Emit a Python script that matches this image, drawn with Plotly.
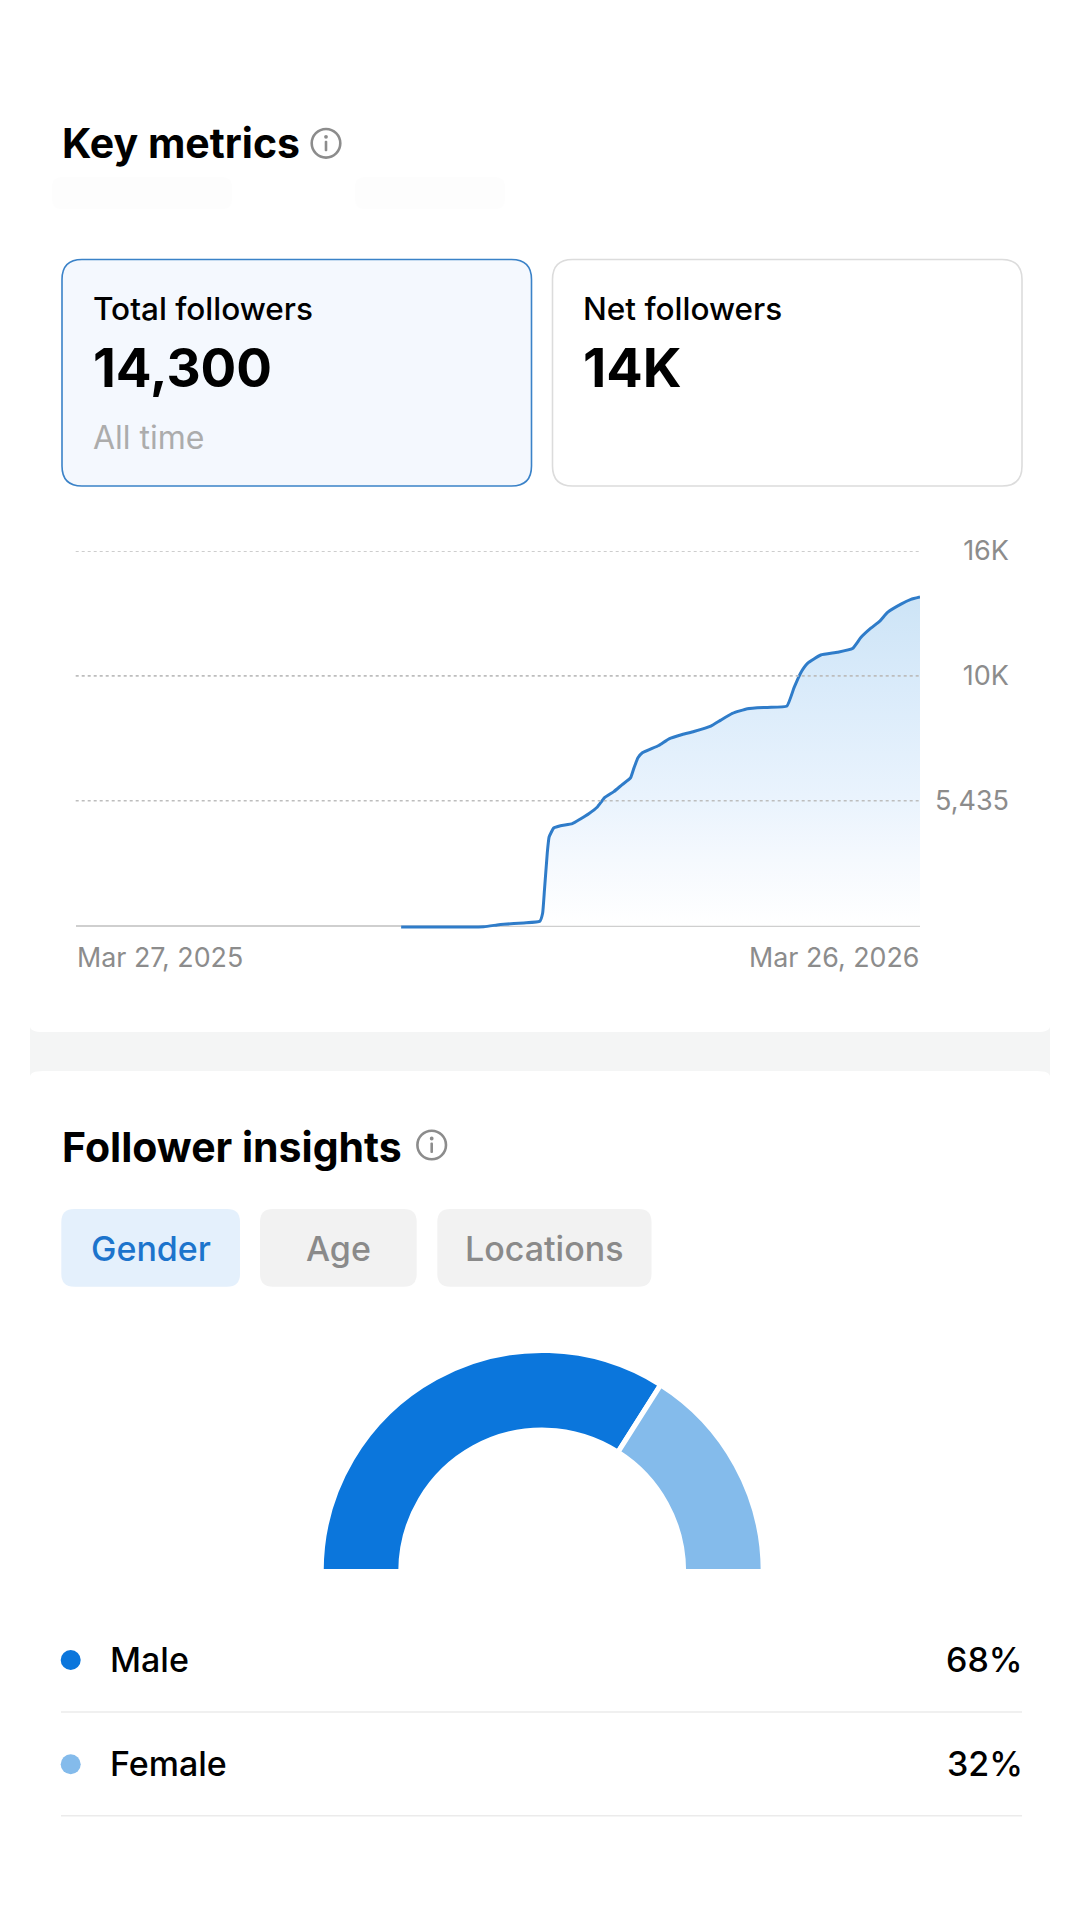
import pandas as pd
import plotly.graph_objects as go

# ---- data ----
START_DATE = "2025-03-27"
END_DATE = "2026-03-26"
days = [140.3, 175.9, 181.7, 184.6, 193.2, 200.1, 201.3, 202.1, 203.3, 204.1, 206.1, 209.0,
        214.1, 217.6, 221.2, 224.9, 228.0, 232.0, 235.6, 239.2, 240.7, 242.4, 244.3, 251.4,
        255.8, 261.5, 266.5, 273.8, 278.1, 283.1, 289.6, 298.2, 306.6, 309.7, 312.6, 315.5,
        321.2, 328.4, 334.9, 338.5, 342.8, 346.8, 350.0, 355.8, 360.1, 364.0]
followers = [-57, -44, 31, 61, 118, 192, 541, 1558, 3159, 3857, 4250, 4350,
             4437, 4642, 4873, 5166, 5572, 5833, 6139, 6431, 6867, 7304, 7522, 7840,
             8133, 8320, 8451, 8682, 8944, 9237, 9442, 9498, 9555, 10358, 11012, 11418,
             11780, 11898, 12060, 12539, 12945, 13264, 13630, 13992, 14197, 14300]
y_ticks = [5435, 10870, 16305]
y_tick_labels = ["5,435", "10K", "16K"]
genders = ["Male", "Female"]
gender_pct = [68, 32]
tabs = ["Gender", "Age", "Locations"]

W, H = 1080, 1920
FONT = "Inter"
px = lambda v: v / W
py = lambda v: 1 - v / H
dates = pd.Timestamp(START_DATE) + pd.to_timedelta(days, unit="D")

shapes, annos = [], []


def rrect(x0, y0, x1, y1, r, fill, line=None, lw=0):
    p = (f"M{px(x0+r)},{py(y0)} L{px(x1-r)},{py(y0)} Q{px(x1)},{py(y0)} {px(x1)},{py(y0+r)} "
         f"L{px(x1)},{py(y1-r)} Q{px(x1)},{py(y1)} {px(x1-r)},{py(y1)} "
         f"L{px(x0+r)},{py(y1)} Q{px(x0)},{py(y1)} {px(x0)},{py(y1-r)} "
         f"L{px(x0)},{py(y0+r)} Q{px(x0)},{py(y0)} {px(x0+r)},{py(y0)} Z")
    shapes.append(dict(type="path", path=p, xref="paper", yref="paper", fillcolor=fill, layer="below",
                       line=dict(color=line or fill, width=lw)))


def text(x, base, s, size, color="#000", weight=400, anchor="left"):
    annos.append(dict(x=px(x), y=py(base + 1.5 + 0.24 * size), xref="paper", yref="paper", text=s, showarrow=False,
                      xanchor=anchor, yanchor="bottom", borderpad=0, align=anchor,
                      font=dict(family=FONT, size=size, color=color, weight=weight)))


def circle(cx, cy, r, fill="rgba(0,0,0,0)", line="rgba(0,0,0,0)", lw=0):
    shapes.append(dict(type="circle", xref="paper", yref="paper", x0=px(cx - r), x1=px(cx + r),
                       y0=py(cy + r), y1=py(cy - r), fillcolor=fill, layer="below",
                       line=dict(color=line, width=lw)))


def info(cx, cy):
    circle(cx, cy, 14.3, line="#8c8c8c", lw=2.6)
    circle(cx, cy - 6.5, 1.9, fill="#8c8c8c")
    rrect(cx - 1.3, cy - 2.5, cx + 1.3, cy + 8, 1, "#8c8c8c")


# header
text(60.5, 157.7, "Key metrics", 41, weight=700)
info(326, 143.3)
rrect(52, 177, 232, 209, 10, "#fdfdfd")
rrect(355, 177, 505, 209, 10, "#fdfdfd")

# metric cards
rrect(62, 259.5, 531.5, 486, 20, "#f4f8fe", "#3a82c8", 1.6)
rrect(552.5, 259.5, 1022, 486, 20, "#ffffff", "#dcdcdc", 1.6)
text(91.5, 320, "Total followers", 31.5, weight=500)
text(91.5, 386.7, "14,300", 53, weight=700)
text(91.5, 449, "All time", 32, color="#acacac")
text(582, 320, "Net followers", 31.5, weight=500)
text(581.5, 386.7, "14K", 54, weight=700)

# separator band with concave corners
r = 13
band = (f"M{px(30)},{py(1026)} Q{px(30)},{py(1032)} {px(30+r)},{py(1032)} L{px(1050-r)},{py(1032)} "
        f"Q{px(1050)},{py(1032)} {px(1050)},{py(1026)} L{px(1050)},{py(1077)} "
        f"Q{px(1050)},{py(1071)} {px(1050-r)},{py(1071)} L{px(30+r)},{py(1071)} "
        f"Q{px(30)},{py(1071)} {px(30)},{py(1077)} Z")
shapes.append(dict(type="path", path=band, xref="paper", yref="paper", fillcolor="#f4f5f5",
                   layer="below", line=dict(width=0)))

# follower insights
text(60.5, 1161.7, "Follower insights", 41, weight=700)
info(431.7, 1145)
tab_boxes = [(61.3, 240), (260, 416.7), (437.3, 651.5)]
for name, (a, b), on in zip(tabs, tab_boxes, [True, False, False]):
    rrect(a, 1209, b, 1286.7, 13, "#e4f0fc" if on else "#f2f2f2")
    text((a + b) / 2, 1260, name, 34, color="#1c74cc" if on else "#8a8a8a", weight=500, anchor="center")

# legend rows
colors = ["#0b76dc", "#84bbeb"]
for name, val, col, cy, rule in zip(genders, gender_pct, colors, [1660, 1764.3], [1712, 1815.7]):
    circle(70.7, cy, 10, fill=col)
    text(109, cy + 11.4, name, 34, weight=500)
    text(1023.5, cy + 11.4, f"{val}%", 34, weight=500, anchor="right")
    shapes.append(dict(type="line", xref="paper", yref="paper", x0=px(61), x1=px(1022), y0=py(rule), y1=py(rule),
                       layer="below", line=dict(color="#ebebeb", width=1.6)))

# dotted gridlines above the area fill
for t in y_ticks:
    shapes.append(dict(type="line", xref="x domain", yref="y", x0=0, x1=1, y0=t, y1=t, layer="above",
                       line=dict(color="#bdbdbd", width=1.6, dash="3px,3px")))

# date labels
for d, anchor in [(START_DATE, "left"), (END_DATE, "right")]:
    a = dict(x=d, xref="x", y=py(965.7 + 8.5), yref="paper", text=pd.Timestamp(d).strftime("%b %-d, %Y"),
             showarrow=False, xanchor=anchor, yanchor="bottom", borderpad=0,
             font=dict(family=FONT, size=26.8, color="#8c8c8c"))
    annos.append(a)

fig = go.Figure()
fig.add_trace(go.Scatter(
    x=dates, y=followers, mode="lines", fill="tozeroy", hoverinfo="skip", showlegend=False,
    line=dict(color="#2f7cc9", width=3, shape="spline", smoothing=0.4),
    fillgradient=dict(type="vertical", start=0, stop=max(followers),
                      colorscale=[[0, "#ffffff"], [0.2, "#f5f9fe"], [0.4, "#e9f3fd"], [0.76, "#d8eafa"], [1, "#cde4f6"]]),
))
fig.add_trace(go.Pie(
    labels=genders + [""], values=gender_pct + [sum(gender_pct)], sort=False, direction="clockwise", rotation=270,
    hole=0.64, textinfo="none", hoverinfo="skip", showlegend=False, automargin=False,
    marker=dict(colors=colors + ["rgba(0,0,0,0)"], line=dict(color="#ffffff", width=[5, 5, 0])),
    domain=dict(x=[px(542.2 - 221), px(542.2 + 221)], y=[py(1571.5 + 221), py(1571.5 - 221)]),
))
fig.update_layout(
    width=W, height=H, margin=dict(l=0, r=0, t=0, b=0, autoexpand=False), paper_bgcolor="#ffffff",
    plot_bgcolor="rgba(0,0,0,0)", shapes=shapes, annotations=annos,
    xaxis=dict(domain=[px(75.7), px(920)], range=[START_DATE, END_DATE], type="date", showgrid=False, automargin=False,
               showticklabels=False, zeroline=False, fixedrange=True),
    yaxis=dict(domain=[py(925.7 + 500 / 43.63), py(551)], range=[-500, 16305], side="left", anchor="free", automargin=False,
               position=px(1009), tickvals=y_ticks, ticktext=y_tick_labels, showgrid=False,
               zeroline=True, zerolinecolor="#cfcfcf",
               zerolinewidth=2.4, ticks="", showline=False, fixedrange=True,
               tickfont=dict(family=FONT, size=27, color="#8c8c8c")),
)
fig.write_html("out.html", config={"displayModeBar": False},
               post_script="document.body.style.margin='0';document.documentElement.style.overflow='hidden';")
